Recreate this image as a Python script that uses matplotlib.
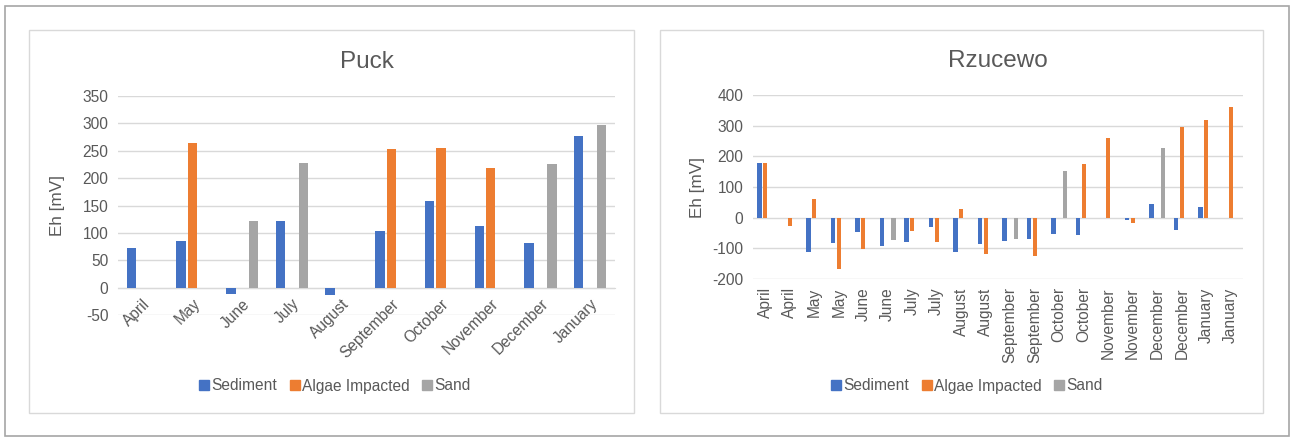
import numpy as np
import matplotlib
matplotlib.use("Agg")
import matplotlib.pyplot as plt
from matplotlib.patches import Rectangle, Patch

plt.rcParams['font.family'] = ['Liberation Sans', 'DejaVu Sans']
plt.rcParams['axes.unicode_minus'] = False

# Puck site data (Eh in mV), nan = no measurement
puck_months = ["April", "May", "June", "July", "August", "September",
               "October", "November", "December", "January"]
puck_sediment = [73, 86, -11, 121, -13, 103, 158, 112, 81, 277]
puck_algae = [np.nan, 263, np.nan, np.nan, np.nan, 253, 254, 219, np.nan, np.nan]
puck_sand = [np.nan, np.nan, 122, 228, np.nan, np.nan, np.nan, np.nan, 225, 297]

# Rzucewo site data (two sampling points per month)
rz_months = ["April", "April", "May", "May", "June", "June", "July", "July",
             "August", "August", "September", "September", "October", "October",
             "November", "November", "December", "December", "January", "January"]
rz_sediment = [179, np.nan, -112, -83, -46, -94, -79, -29, -113, -87,
               -75, -69, -53, -55, -2, -6, 44, -39, 34, -2]
rz_algae = [179, -28, 60, -168, -101, np.nan, -43, -79, 27, -117,
            np.nan, -126, np.nan, 175, 259, -16, np.nan, 297, 318, 361]
rz_sand = [np.nan, np.nan, np.nan, np.nan, np.nan, -73, np.nan, np.nan, np.nan, np.nan,
           -69, np.nan, 152, np.nan, np.nan, np.nan, 226, np.nan, np.nan, np.nan]

series_names = ["Sediment", "Algae Impacted", "Sand"]
colors = ["#4472C4", "#ED7D31", "#A5A5A5"]
text_c = "#595959"
grid_c = "#D9D9D9"
fs = 11.2

W, H = 1290, 437
fig = plt.figure(figsize=(W / 100, H / 100), dpi=100)


def px_rect(l, t, r, b):
    return [l / W, 1 - b / H, (r - l) / W, (b - t) / H]


# outer frame and panel frames
fig.patches.append(Rectangle((5 / W, 1 - 436 / H), 1284 / W, 430 / H, transform=fig.transFigure,
                             fill=False, edgecolor="#A6A6A6", lw=1.2))
for l, r in [(29, 634), (660, 1263)]:
    fig.patches.append(Rectangle((l / W, 1 - 413 / H), (r - l) / W, 383 / H, transform=fig.transFigure,
                                 fill=False, edgecolor="#D9D9D9", lw=1.0))


def draw(ax, cats, data, ylim, step, width, off, title, rot, at_zero, ylab_x):
    x = np.arange(len(cats))
    for i, (vals, c) in enumerate(zip(data, colors)):
        ax.bar(x + (i - 1) * off, vals, width, color=c, zorder=3)
    ax.set_xlim(-0.5, len(cats) - 0.5)
    ax.set_ylim(*ylim)
    ax.set_yticks(np.arange(ylim[0], ylim[1] + 1, step))
    ax.grid(axis='y', color=grid_c, lw=1, zorder=0)
    for s in ["top", "right", "left"]:
        ax.spines[s].set_visible(False)
    if at_zero:
        ax.spines['bottom'].set_position(('data', 0))
        ax.spines['bottom'].set_color(grid_c)
    else:
        ax.spines['bottom'].set_visible(False)
    ax.set_xticks(x)
    if rot == 90:
        ax.set_xticklabels(cats, rotation=90, ha='center', va='top')
    else:
        ax.set_xticklabels(cats, rotation=rot, ha='right', va='top', rotation_mode='anchor')
    ax.tick_params(length=0, labelsize=fs, colors=text_c, pad=7)
    ax.tick_params(axis='x', pad=6)
    ax.set_ylabel("Eh [mV]", fontsize=12.3, color=text_c)
    ax.yaxis.set_label_coords(ylab_x, 0.5)
    ax.set_title(title, fontsize=17.5, color=text_c, pad=20)


ax1 = fig.add_axes(px_rect(118, 95.7, 615, 315.3))
draw(ax1, puck_months, [puck_sediment, puck_algae, puck_sand], (-50, 350), 50,
     0.19, 0.23, "Puck", 45, True, -0.107)

ax2 = fig.add_axes(px_rect(753, 95, 1243, 279))
draw(ax2, rz_months, [rz_sediment, rz_algae, rz_sand], (-200, 400), 100,
     0.18, 0.235, "Rzucewo", 90, False, -0.098)

handles = [Patch(color=c, label=n) for c, n in zip(colors, series_names)]
for cx in [335, 967]:
    fig.legend(handles=handles, loc='center', bbox_to_anchor=(cx / W, 1 - 386 / H), ncol=3,
               frameon=False, fontsize=fs, handlelength=0.65, handleheight=0.65,
               handletextpad=0.15, columnspacing=0.8, labelcolor=text_c)

fig.savefig("out.png", dpi=100)
